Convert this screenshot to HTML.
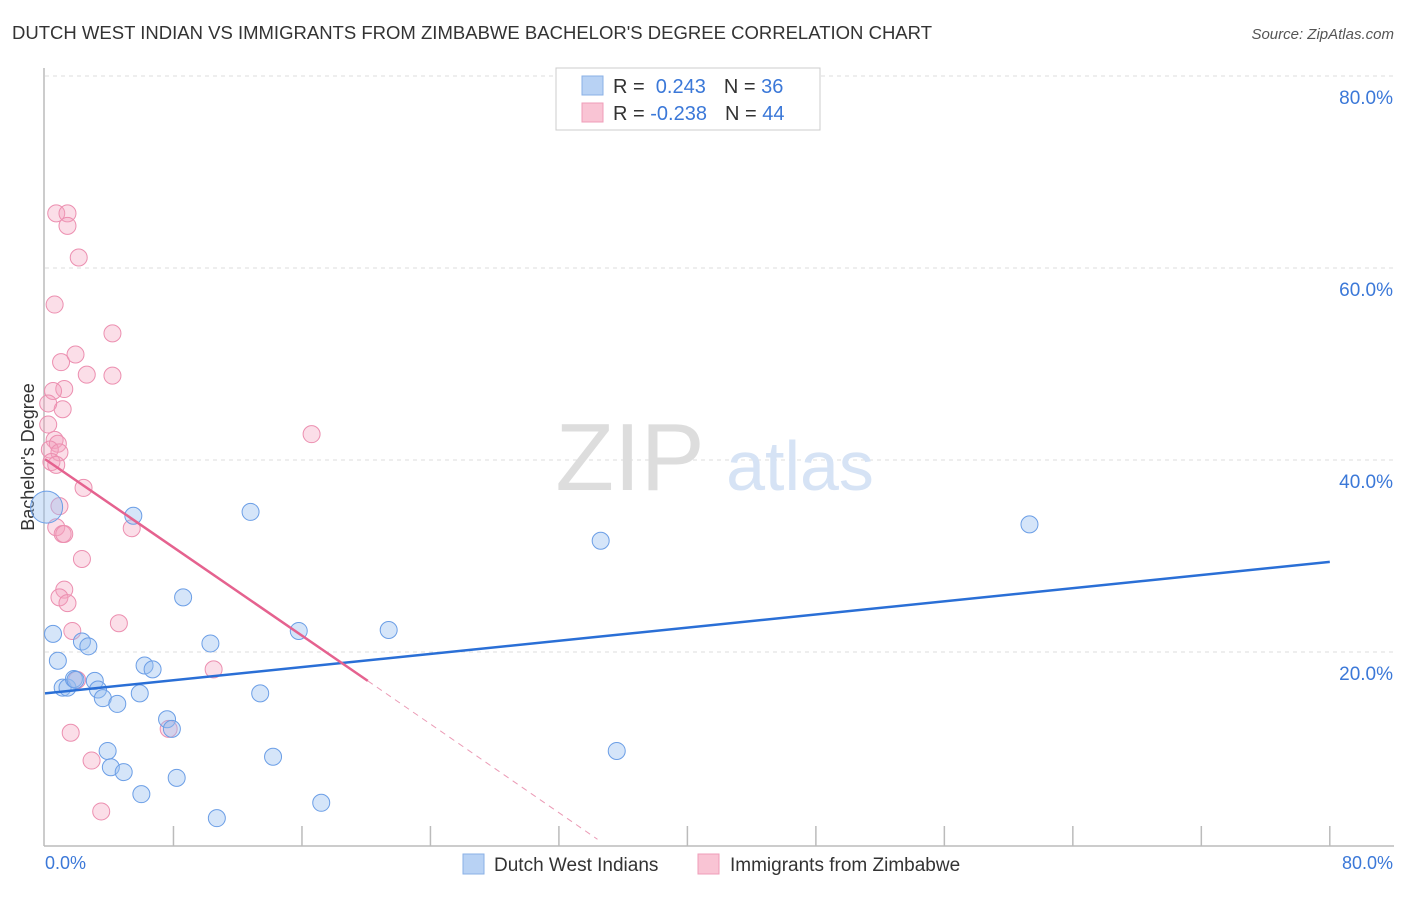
<!DOCTYPE html>
<html><head><meta charset="utf-8"><style>
body{margin:0;background:#fff;font-family:"Liberation Sans",sans-serif;}
svg text{font-family:"Liberation Sans",sans-serif;}
</style></head><body>
<svg id="chart" width="1406" height="892">
<text x="12" y="39" font-size="18" fill="#333" textLength="920" lengthAdjust="spacingAndGlyphs">DUTCH WEST INDIAN VS IMMIGRANTS FROM ZIMBABWE BACHELOR'S DEGREE CORRELATION CHART</text>
<text x="1394" y="39" font-size="15" fill="#555" font-style="italic" text-anchor="end">Source: ZipAtlas.com</text>
<g id="grid"></g>
<text x="630" y="490" font-size="96" fill="#ddd" font-family="Liberation Serif" text-anchor="middle">ZIP</text>
<text x="800" y="490" font-size="70" fill="#d6e3f5" text-anchor="middle">atlas</text>
<line x1="44" y1="68" x2="44" y2="846" stroke="#bbb" stroke-width="1.5"/>
<line x1="44" y1="846" x2="1394" y2="846" stroke="#bbb" stroke-width="1.5"/>
<text transform="translate(34,457) rotate(-90)" font-size="18" fill="#333" text-anchor="middle">Bachelor's Degree</text>
<text x="45" y="869" font-size="18" fill="#3b78d8">0.0%</text>
<text x="1393" y="869" font-size="18" fill="#3b78d8" text-anchor="end">80.0%</text>
<g id="points"></g>
<g id="lines"></g>
<g>
<rect x="556" y="68" width="264" height="62" fill="#fff" stroke="#ccc"/>
<rect x="582" y="76" width="21" height="19" fill="#b8d2f4" stroke="#8ab0e6"/>
<rect x="582" y="103" width="21" height="19" fill="#f9c4d4" stroke="#ef9db8"/>
<text x="613" y="93" font-size="20" fill="#333">R = <tspan fill="#3b78d8">&#160;0.243</tspan><tspan dx="18">N = </tspan><tspan fill="#3b78d8">36</tspan></text>
<text x="613" y="120" font-size="20" fill="#333">R = <tspan fill="#3b78d8">-0.238</tspan><tspan dx="18">N = </tspan><tspan fill="#3b78d8">44</tspan></text>
</g>
<g>
<rect x="463" y="854" width="21" height="20" fill="#b8d2f4" stroke="#8ab0e6"/>
<text x="494" y="871" font-size="19" fill="#333">Dutch West Indians</text>
<rect x="698" y="854" width="21" height="20" fill="#f9c4d4" stroke="#ef9db8"/>
<text x="730" y="871" font-size="19" fill="#333">Immigrants from Zimbabwe</text>
</g>
</svg>
<script>
const yTicks=[20,40,60,80];
const yTickLabels=["20.0%","40.0%","60.0%","80.0%"];
const xTicks=[8,16,24,32,40,48,56,64,72,80];
const blueX=[0.5,0.8,1.1,1.4,1.8,2.3,2.7,3.1,3.3,3.6,3.9,4.1,4.5,4.9,5.5,5.9,6.0,6.2,6.7,7.6,7.9,8.2,8.6,10.3,10.7,12.8,13.4,14.2,15.8,17.2,21.4,34.6,35.6,61.3,1.9];
const blueY=[22.1,19.3,16.5,16.5,17.4,21.3,20.8,17.2,16.3,15.4,9.9,8.2,14.8,7.7,34.4,15.9,5.4,18.8,18.4,13.2,12.2,7.1,25.9,21.1,2.9,34.8,15.9,9.3,22.4,4.5,22.5,31.8,9.9,33.5,17.3];
const blueBigX=[0.1], blueBigY=[35.3];
const pinkX=[0.7,1.4,1.4,2.1,0.6,4.2,1.0,1.9,2.6,4.2,1.2,0.5,1.1,0.2,0.2,0.6,0.8,0.3,0.9,0.4,0.7,16.6,2.4,0.9,0.7,1.1,1.2,5.4,2.3,1.2,0.9,1.4,4.6,1.7,10.5,7.7,1.6,2.9,3.5,2.0];
const pinkY=[65.9,65.9,64.6,61.3,56.4,53.4,50.4,51.2,49.1,49.0,47.6,47.4,45.5,46.1,43.9,42.3,41.9,41.3,41.0,40.0,39.7,42.9,37.3,35.4,33.2,32.5,32.5,33.1,29.9,26.7,25.9,25.3,23.2,22.4,18.4,12.2,11.8,8.9,3.6,17.3];
const blueLine=[[0,15.9],[80,29.6]];
const pinkLine=[[0,40.3],[20.1,17.2]];
const pinkDash=[[20.1,17.2],[34.4,0.7]];
const sx=v=>45+v*16.06, sy=v=>846-v*9.6;
const NS="http://www.w3.org/2000/svg";
function mk(t,a,p){const e=document.createElementNS(NS,t);for(const k in a)e.setAttribute(k,a[k]);p.appendChild(e);return e;}
const grid=document.getElementById('grid');
yTicks.forEach((t,i)=>{
 const l=mk('line',{x1:45,x2:1394,y1:sy(t)-2,y2:sy(t)-2,stroke:'#ddd','stroke-dasharray':'4,4'},grid);
 
 
 const tx=mk('text',{x:1393,y:sy(t)+26,'font-size':19,fill:'#3b78d8','text-anchor':'end'},grid);
 tx.textContent=yTickLabels[i];
 
 
});
xTicks.forEach(t=>{
 const l=mk('line',{x1:sx(t),x2:sx(t),y1:826,y2:846,stroke:'#bbb','stroke-width':1.5},grid);
 
 
});
const pts=document.getElementById('points');
pinkX.forEach((x,i)=>{
 const c=mk('circle',{cx:sx(x),cy:sy(pinkY[i]),r:8.5,fill:'rgba(244,160,188,0.35)',stroke:'#ec8fb0','stroke-width':1},pts);
 
 
});
blueX.forEach((x,i)=>{
 const c=mk('circle',{cx:sx(x),cy:sy(blueY[i]),r:8.5,fill:'rgba(150,190,240,0.4)',stroke:'#6b9ee6','stroke-width':1},pts);
 
 
});
blueBigX.forEach((x,i)=>{
 const c=mk('circle',{cx:sx(x),cy:sy(blueBigY[i]),r:16,fill:'rgba(150,190,240,0.4)',stroke:'#6b9ee6','stroke-width':1},pts);
 
 
});
const lg=document.getElementById('lines');
let l=mk('line',{x1:sx(blueLine[0][0]),y1:sy(blueLine[0][1]),x2:sx(blueLine[1][0]),y2:sy(blueLine[1][1]),stroke:'#2a6fd6','stroke-width':2.5},lg);


l=mk('line',{x1:sx(pinkLine[0][0]),y1:sy(pinkLine[0][1]),x2:sx(pinkLine[1][0]),y2:sy(pinkLine[1][1]),stroke:'#e5628f','stroke-width':2.5},lg);


l=mk('line',{x1:sx(pinkDash[0][0]),y1:sy(pinkDash[0][1]),x2:sx(pinkDash[1][0]),y2:sy(pinkDash[1][1]),stroke:'#eb9ab5','stroke-width':1,'stroke-dasharray':'6,5'},lg);


</script>
</body></html>
